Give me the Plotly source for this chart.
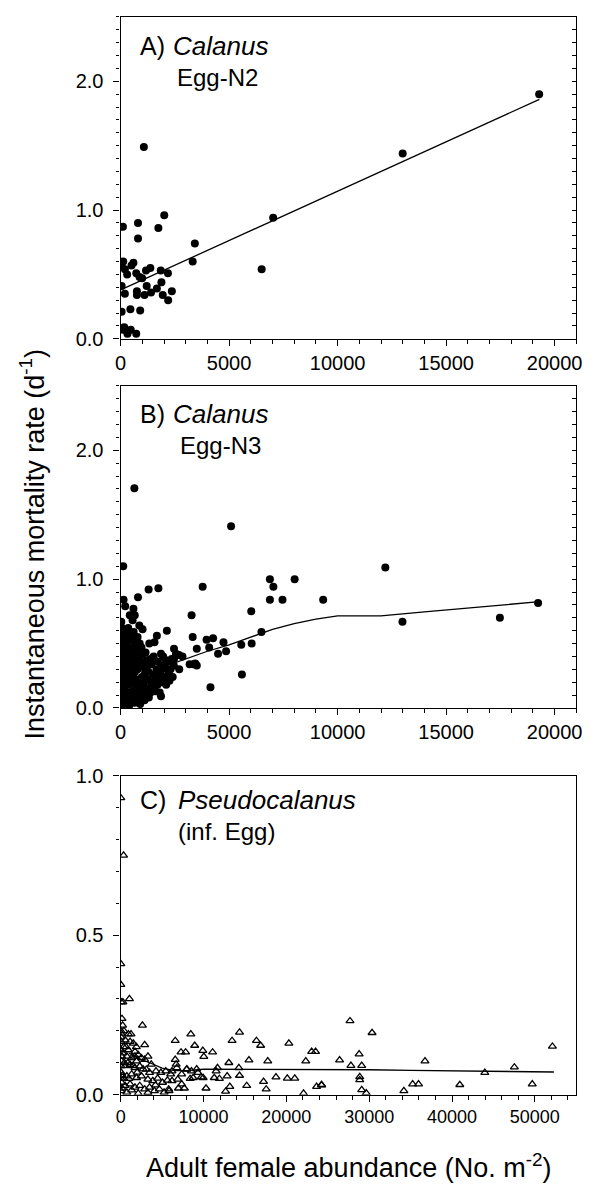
import plotly.graph_objects as go

# ---------------- Panel A: Calanus Egg-N2 ----------------
A_X = [105, 800, 800, 1740, 2010, 3420, 3320, 7030, 6500, 120, 45, 195, 500, 300, 720, 870,
       1170, 1370, 1850, 2180, 45, 195, 750, 750, 1100, 1200, 1400, 1670, 1880, 1940, 2360,
       2190, 45, 450, 900, 15, 165, 315, 465, 720, 120, 1070, 13000, 19290, 990, 590]
A_Y = [0.87, 0.90, 0.78, 0.86, 0.96, 0.74, 0.60, 0.94, 0.54, 0.60, 0.56, 0.54, 0.57, 0.50, 0.51, 0.48,
       0.53, 0.55, 0.53, 0.51, 0.41, 0.35, 0.37, 0.34, 0.34, 0.41, 0.36, 0.39, 0.44, 0.34, 0.37,
       0.30, 0.21, 0.23, 0.22, 0.08, 0.09, 0.04, 0.07, 0.04, 0.07, 1.49, 1.44, 1.90, 0.47, 0.59]
LINE_A_X = [0, 19300]
LINE_A_Y = [0.38, 1.86]

# ---------------- Panel B: Calanus Egg-N3 ----------------
B_X = [633, 5090, 120, 12200, 1290, 1740, 3780, 6880, 7040, 8020, 6880, 7460, 9335, 6020, 3270,
       800, 6490, 6040, 5560, 4860, 5590, 4140, 4740, 3960, 4260, 4080, 4490, 3320, 3510, 3360,
       3510, 3180, 3440, 2700, 2850, 2460, 2130, 1670, 1560, 1860, 860, 1010, 590, 650, 135,
       210, 30, 420, 12990, 17480, 19240, 1380, 1860, 2090, 2460, 2690,
       # dense cluster
       20, 30, 10, 40, 20, 50, 15, 35, 60, 25, 40, 80, 90, 70, 100, 85, 95, 75, 110, 90, 120, 60,
       160, 200, 180, 230, 170, 250, 210, 260, 190, 240, 300, 320, 350, 290, 370, 330, 380, 310,
       360, 280, 400, 420, 440, 410, 450, 430, 460, 350,
       500, 550, 520, 580, 540, 600, 560, 620, 520, 650, 700, 680, 720, 660, 740, 700, 760, 640,
       780, 600, 800, 820, 780, 850, 830, 880, 550,
       900, 950, 920, 980, 940, 1000, 960, 1050, 1100, 1080, 1120, 1060, 1150, 1200, 1180, 1250,
       1230, 1300, 1280, 1320,
       1380, 1400, 1420, 1480, 1500, 1520, 1600, 1620, 1650, 1700, 1720, 1780, 1800, 1850, 1880,
       1920, 1960, 2000,
       2050, 2100, 2150, 2200, 2250, 2300, 2350, 2400, 2450, 2550]
B_Y = [1.705, 1.41, 1.10, 1.09, 0.92, 0.93, 0.94, 1.00, 0.94, 1.00, 0.84, 0.84, 0.84, 0.75, 0.72,
       0.86, 0.59, 0.50, 0.49, 0.44, 0.26, 0.16, 0.51, 0.53, 0.54, 0.47, 0.42, 0.55, 0.46, 0.34,
       0.33, 0.34, 0.345, 0.30, 0.40, 0.46, 0.60, 0.56, 0.51, 0.09, 0.64, 0.61, 0.77, 0.72, 0.84,
       0.79, 0.67, 0.72, 0.67, 0.70, 0.815, 0.38, 0.42, 0.37, 0.38, 0.41,
       0.02, 0.08, 0.14, 0.20, 0.26, 0.31, 0.36, 0.42, 0.47, 0.52, 0.57, 0.05, 0.11, 0.17, 0.23, 0.29,
       0.35, 0.40, 0.45, 0.50, 0.55, 0.62,
       0.03, 0.09, 0.15, 0.21, 0.27, 0.33, 0.38, 0.44, 0.49, 0.54, 0.06, 0.12, 0.18, 0.24, 0.30,
       0.36, 0.41, 0.47, 0.52, 0.58, 0.02, 0.10, 0.20, 0.28, 0.34, 0.43, 0.56, 0.62,
       0.05, 0.13, 0.19, 0.25, 0.31, 0.37, 0.43, 0.48, 0.53, 0.04, 0.10, 0.16, 0.22, 0.28, 0.34,
       0.40, 0.45, 0.51, 0.55, 0.59, 0.07, 0.14, 0.30, 0.20, 0.38, 0.50, 0.68,
       0.03, 0.09, 0.17, 0.24, 0.32, 0.41, 0.47, 0.12, 0.06, 0.20, 0.27, 0.35, 0.43, 0.15, 0.31, 0.22,
       0.37, 0.08, 0.28, 0.50,
       0.12, 0.20, 0.34, 0.16, 0.26, 0.40, 0.13, 0.22, 0.30, 0.18, 0.36, 0.25, 0.12, 0.28, 0.33,
       0.20, 0.40, 0.24,
       0.31, 0.18, 0.36, 0.26, 0.21, 0.30, 0.38, 0.24, 0.33, 0.42]
LINE_B_X = [500, 1000, 1500, 2000, 3000, 4000, 5000, 6000, 7000, 8000, 9000, 10000, 12000,
            14000, 16000, 18000, 19300]
LINE_B_Y = [0.22, 0.25, 0.28, 0.32, 0.38, 0.44, 0.49, 0.55, 0.61, 0.655, 0.69, 0.715, 0.715,
            0.745, 0.775, 0.80, 0.825]

# ---------------- Panel C: Pseudocalanus (inf. Egg) ----------------
C_X = [20, 350, 20, 20, 60, 270, 1060,
       160, 240, 60, 2630, 2900, 60, 550, 1140, 1530, 350, 940, 1730, 2120, 240, 750, 1330, 1920,
       2510, 2900, 100, 550, 1140, 1730, 2310, 3100, 3490, 4270, 4860, 5450, 6040, 80, 750, 1330,
       1920, 2510, 3290, 3880, 4470, 5060, 5650, 120, 550, 1140, 1730, 2310, 2900, 3490, 4080,
       4670, 5250, 5840, 40, 750, 1330, 2120, 3290, 1730, 940,
       30, 50, 40, 150, 30, 200, 30, 180, 400, 450, 650, 850, 400, 1000, 1500, 2000, 2700, 3700,
       4200, 1250, 1900, 3300,
       6590, 8470, 8940, 7290, 7840, 9920, 11100, 10040, 13450, 14350, 16390, 16900, 20310, 23060,
       23530, 13060, 15490, 17760, 22350, 6590, 11690, 11300, 12860, 14350, 15220, 17250, 17570,
       18750, 20120, 21020, 10310, 12670, 13180, 22080, 23650, 24240, 6980, 7690, 8550,
       6700, 8000, 9180, 11530, 14270, 9960, 8390, 6900, 11920,
       6200, 6780, 7370, 7960, 8750, 9330, 9730, 6200, 7370, 5800,
       27690, 30350, 28790, 26430, 27800, 29100, 28860, 28860, 29100, 29650, 24270, 34190, 35250,
       35960, 36740, 40940, 43960, 47530, 49690, 52120]
C_Y = [0.93, 0.75, 0.41, 0.345, 0.29, 0.29, 0.30,
       0.238, 0.217, 0.192, 0.217, 0.156, 0.166, 0.171, 0.166, 0.161, 0.15, 0.14, 0.135, 0.125,
       0.13, 0.12, 0.115, 0.105, 0.115, 0.11, 0.105, 0.09, 0.094, 0.084, 0.089, 0.079, 0.069,
       0.074, 0.069, 0.074, 0.064, 0.069, 0.058, 0.064, 0.053, 0.058, 0.048, 0.043, 0.051, 0.038,
       0.045, 0.038, 0.028, 0.033, 0.023, 0.028, 0.017, 0.023, 0.012, 0.017, 0.007, 0.012, 0.012,
       0.007, 0.014, 0.004, 0.006, 0.12, 0.19,
       0.20, 0.18, 0.14, 0.12, 0.09, 0.06, 0.05, 0.02, 0.20, 0.10, 0.15, 0.10, 0.05, 0.05, 0.09,
       0.07, 0.08, 0.095, 0.03, 0.19, 0.15, 0.12,
       0.169, 0.19, 0.154, 0.133, 0.133, 0.138, 0.133, 0.119, 0.169, 0.195, 0.169, 0.154, 0.161,
       0.135, 0.135, 0.10, 0.108, 0.105, 0.105, 0.11, 0.084, 0.053, 0.058, 0.06, 0.028, 0.041,
       0.017, 0.055, 0.051, 0.051, 0.02, 0.01, 0.025, 0.004, 0.025, 0.031, 0.02, 0.02, 0.074,
       0.095, 0.08, 0.08, 0.074, 0.084, 0.053, 0.05, 0.048, 0.05,
       0.074, 0.084, 0.064, 0.079, 0.053, 0.069, 0.055, 0.043, 0.033, 0.017,
       0.231, 0.194, 0.127, 0.108, 0.091, 0.091, 0.056, 0.046, 0.015, 0.005, 0.03, 0.012, 0.033,
       0.033, 0.105, 0.031, 0.069, 0.086, 0.033, 0.151]
LINE_C_X = [1000, 2500, 3500, 5000, 6500, 8000, 10000, 15000, 20000, 25000, 30000, 35000, 40000,
            45000, 52300]
LINE_C_Y = [0.13, 0.11, 0.10, 0.083, 0.075, 0.075, 0.08, 0.08, 0.08, 0.079, 0.078, 0.076, 0.074,
            0.072, 0.071]

# ---------------- Layout geometry ----------------
W, H = 595, 1193
FONT = "Liberation Sans, Arial, Helvetica, sans-serif"


def px_x(p):
    return p / W


def px_y(p):
    return 1 - p / H


XDOM = [px_x(117), px_x(582)]
A_DOM = [px_y(334), px_y(6)]
B_DOM = [px_y(710), px_y(382)]
C_DOM = [px_y(1104), px_y(779)]

fig = go.Figure()

mk_circle = dict(color="black", size=8, symbol="circle")
ln = dict(color="black", width=1.3)

fig.add_trace(go.Scatter(x=A_X, y=A_Y, mode="markers", marker=mk_circle, xaxis="x", yaxis="y"))
fig.add_trace(go.Scatter(x=LINE_A_X, y=LINE_A_Y, mode="lines", line=ln, xaxis="x", yaxis="y"))
fig.add_trace(go.Scatter(x=B_X, y=B_Y, mode="markers", marker=mk_circle, xaxis="x2", yaxis="y2"))
fig.add_trace(go.Scatter(x=LINE_B_X, y=LINE_B_Y, mode="lines", line=ln, xaxis="x2", yaxis="y2"))
fig.add_trace(go.Scatter(x=C_X, y=C_Y, mode="markers",
                         marker=dict(color="black", size=7, symbol="triangle-up-open",
                                     line=dict(color="black", width=1.3)),
                         xaxis="x3", yaxis="y3"))
fig.add_trace(go.Scatter(x=LINE_C_X, y=LINE_C_Y, mode="lines", line=ln, xaxis="x3", yaxis="y3"))
# carriers for the right-side inner tick axes
fig.add_trace(go.Scatter(x=[0], y=[0], mode="markers", marker=dict(opacity=0),
                         xaxis="x", yaxis="y4", hoverinfo="skip"))
fig.add_trace(go.Scatter(x=[0], y=[0], mode="markers", marker=dict(opacity=0),
                         xaxis="x2", yaxis="y5", hoverinfo="skip"))


def xax(rng, dtick, mdtick, anchor, tsize=20):
    return dict(domain=XDOM, range=rng, anchor=anchor, showgrid=False, zeroline=False,
                showline=True, linecolor="black", linewidth=1.3, mirror=True,
                ticks="outside", ticklen=6, tickwidth=1.2, tickcolor="black",
                tick0=0, dtick=dtick, tickformat="d", separatethousands=False,
                tickfont=dict(size=tsize, color="black", family=FONT),
                minor=dict(ticks="outside", dtick=mdtick, tick0=0, ticklen=4,
                           tickwidth=1, tickcolor="black", showgrid=False))


def yax(dom, rng, dtick, anchor):
    return dict(domain=dom, range=rng, anchor=anchor, showgrid=False, zeroline=False,
                showline=True, linecolor="black", linewidth=1.3, mirror=True,
                ticks="outside", ticklen=6, tickwidth=1.2, tickcolor="black",
                tick0=0, dtick=dtick, tickformat=".1f",
                tickfont=dict(size=20, color="black", family=FONT),
                ticklabelstandoff=6,
                minor=dict(ticks="outside", dtick=0.1, tick0=0, ticklen=3,
                           tickwidth=1, tickcolor="black", showgrid=False))


def rax(over, rng, anchor):
    return dict(overlaying=over, side="right", anchor=anchor, range=rng, showgrid=False,
                zeroline=False, showline=False, showticklabels=False,
                ticks="inside", ticklen=4, tickwidth=1, tickcolor="black",
                tick0=0, dtick=0.1)


fig.update_layout(
    width=W, height=H, autosize=False,
    margin=dict(l=0, r=0, t=0, b=0),
    paper_bgcolor="white", plot_bgcolor="white",
    showlegend=False,
    font=dict(family=FONT, color="black"),
    xaxis=xax([0, 21000], 5000, 1000, "y"),
    yaxis=yax(A_DOM, [0, 2.5], 1.0, "x"),
    xaxis2=xax([0, 21000], 5000, 1000, "y2"),
    yaxis2=yax(B_DOM, [0, 2.5], 1.0, "x2"),
    xaxis3=xax([0, 55000], 10000, 2000, "y3", tsize=18),
    yaxis3=yax(C_DOM, [0, 1.0], 0.5, "x3"),
    yaxis4=rax("y", [0, 2.5], "x"),
    yaxis5=rax("y2", [0, 2.5], "x2"),
)


def ann(text, x, y, size, italic=False, xanchor="left", angle=0):
    return dict(text=text, x=x, y=y, xref="paper", yref="paper", showarrow=False,
                xanchor=xanchor, yanchor="middle", textangle=angle, borderpad=0,
                font=dict(size=size, color="black", family=FONT,
                          style="italic" if italic else "normal"))


anns = [
    ann("A)", px_x(136), px_y(36), 25),
    ann("Calanus", px_x(169), px_y(36), 26, italic=True),
    ann("Egg-N2", px_x(174), px_y(68), 24),
    ann("B)", px_x(136), px_y(411), 25),
    ann("Calanus", px_x(169), px_y(411), 26, italic=True),
    ann("Egg-N3", px_x(177), px_y(443), 24),
    ann("C)", px_x(136), px_y(804), 25),
    ann("Pseudocalanus", px_x(175), px_y(804), 26, italic=True),
    ann("(inf. Egg)", px_x(175), px_y(836), 24),
    ann("Instantaneous mortality rate (d<sup>-1</sup>)", px_x(27), px_y(543), 27,
        xanchor="center", angle=-90),
    ann("Adult female abundance (No. m<sup>-2</sup>)", px_x(350), px_y(1177), 27,
        xanchor="center"),
]
fig.update_layout(annotations=anns)

fig.write_html("out.html")
